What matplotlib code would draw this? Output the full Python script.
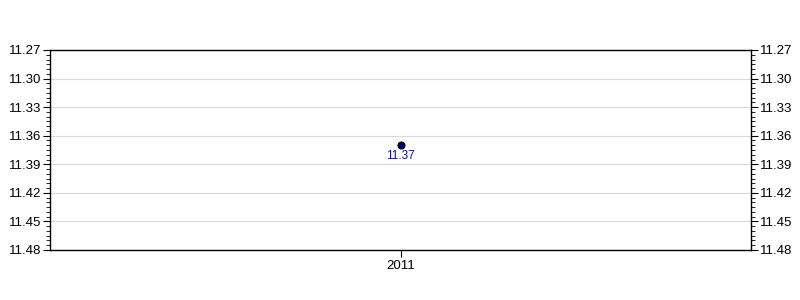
import matplotlib
matplotlib.use("Agg")
import matplotlib.pyplot as plt
from matplotlib.ticker import MultipleLocator, FormatStrFormatter
import numpy as np

plt.rcParams['font.family'] = ['Liberation Sans', 'DejaVu Sans']

years = ["2011"]
values = [11.37]
y_ticks = [11.27, 11.30, 11.33, 11.36, 11.39, 11.42, 11.45, 11.48]

fig = plt.figure(figsize=(8, 3), dpi=100)
ax = fig.add_axes([50/800, 50/300, 701/800, 200/300])

x = np.arange(len(years))
ax.plot(x, values, linestyle='none', marker='o', markersize=5,
        markerfacecolor='#000080', markeredgecolor='black', markeredgewidth=0.8, zorder=3)
for xi, v in zip(x, values):
    ax.annotate(f"{v:.2f}", (xi, v), xytext=(0, -3.5), textcoords='offset points',
                ha='center', va='top', fontsize=8.5, color='#10109a')

ax.set_xlim(-0.5, 0.5)
ax.set_xticks(x)
ax.set_xticklabels(years)
ax.set_ylim(y_ticks[-1], y_ticks[0])
ax.set_yticks(y_ticks)
ax.yaxis.set_major_formatter(FormatStrFormatter('%.2f'))
ax.yaxis.set_minor_locator(MultipleLocator(0.005))
ax.tick_params(axis='y', which='both', left=True, right=True, labelleft=True, labelright=True,
               direction='out', labelsize=9.5, pad=1.5)
ax.tick_params(axis='y', which='major', length=5)
ax.tick_params(axis='y', which='minor', length=3)
ax.tick_params(axis='x', which='major', length=5, labelsize=9.5, pad=2.5)
ax.grid(axis='y', which='major', color='#d9d9d9', linewidth=0.8)
ax.set_axisbelow(True)
for s in ax.spines.values():
    s.set_linewidth(1)
    s.set_color('black')

fig.savefig("out.png", dpi=100)
